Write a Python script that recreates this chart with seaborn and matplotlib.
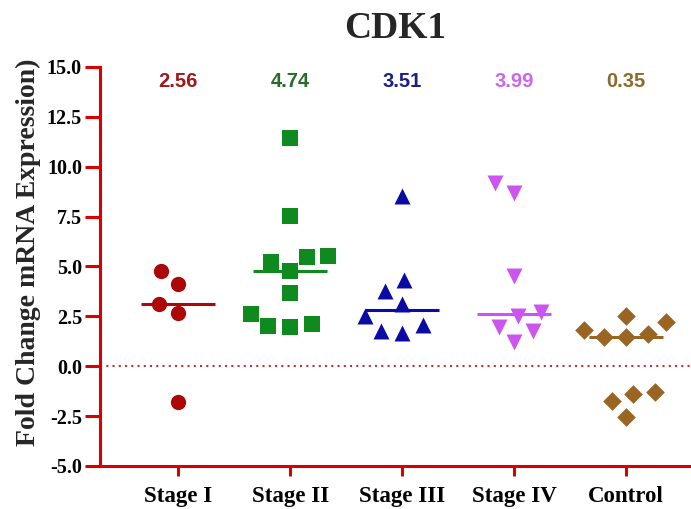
import numpy as np
import pandas as pd
import matplotlib
matplotlib.use("Agg")
import matplotlib.pyplot as plt
import seaborn as sns

# data
stages = ["Stage I", "Stage II", "Stage III", "Stage IV", "Control"]
stage1 = [4.76, 4.11, 3.10, 2.66, -1.80]
stage2 = [11.43, 7.52, 5.46, 5.21, 4.76, 5.51, 3.66, 2.61, 1.95, 2.00, 2.10]
stage3 = [8.52, 3.76, 4.31, 3.10, 2.50, 1.65, 1.75, 2.05]
stage4 = [9.17, 8.67, 4.51, 2.51, 2.71, 1.95, 1.75, 1.20]
control = [2.20, 2.50, 1.80, 1.45, 1.45, 1.60, -1.30, -1.40, -1.75, -2.56]
mean_labels = ["2.56", "4.74", "3.51", "3.99", "0.35"]

marker_colors = ["#ad0808", "#0f8a1e", "#0a0aa5", "#cc55f0", "#9a6522"]
label_colors = ["#a01818", "#2a6a2a", "#1a1f86", "#cc66ee", "#8c6a2a"]
markers = ["o", "s", "^", "v", "D"]
marker_sizes = [11, 11, 11.5, 11.5, 9.5]
yticks = [-5.0, -2.5, 0.0, 2.5, 5.0, 7.5, 10.0, 12.5, 15.0]

groups = [stage1, stage2, stage3, stage4, control]
df = pd.DataFrame({
    "stage": np.repeat(stages, [len(g) for g in groups]),
    "value": np.concatenate(groups),
})

sns.set_style("ticks")
plt.rcParams["font.family"] = ["Liberation Serif", "DejaVu Serif"]
plt.rcParams["font.weight"] = "bold"

axis_red = "#d80000"

fig = plt.figure(figsize=(6.91, 5.09), dpi=100)
ax = fig.add_axes([0.1447, 0.0845, 0.854, 0.784])

swarms = []
for stage, mc, mk in zip(stages, marker_colors, markers):
    sub = df[df["stage"] == stage]
    # median line only
    sns.boxplot(data=sub, x="stage", y="value", order=stages, width=0.66,
                showbox=False, showcaps=False, showfliers=False,
                whiskerprops={"linewidth": 0},
                medianprops={"color": mc, "linewidth": 2.2},
                ax=ax)
    # swarm with a bigger collision size so the points spread out like the original
    n_before = len(ax.collections)
    sns.swarmplot(data=sub, x="stage", y="value", order=stages, color=mc,
                  marker=mk, size=15, linewidth=0, ax=ax, alpha=0)
    new = [c for c in ax.collections[n_before:] if len(c.get_offsets()) > 0]
    swarms.append(new[0])

ax.set_ylim(-5, 15)
ax.set_xlim(-0.7, 4.57)

# let seaborn lay out the swarm, then redraw the points at their real size
fig.canvas.draw()
for coll, mc, mk, ms in zip(swarms, marker_colors, markers, marker_sizes):
    pts = np.asarray(coll.get_offsets()).copy()
    ax.scatter(pts[:, 0], pts[:, 1], marker=mk, s=ms ** 2, color=mc,
               linewidths=0, zorder=3)
for coll in swarms:
    coll.remove()

ax.axhline(0, color="#b03a3a", linewidth=1.5, linestyle=(0, (1, 2)), zorder=1)

for i, (txt, c) in enumerate(zip(mean_labels, label_colors)):
    ax.text(i, 14.25, txt, ha="center", va="center", color=c, fontsize=14.5,
            fontweight="bold", family=["Liberation Sans", "DejaVu Sans"])

ax.set_yticks(yticks)
ax.set_yticklabels([f"{t:.1f}" for t in yticks])

ax.set_xlabel("")
ax.set_ylabel("Fold Change mRNA Expression)", fontsize=20, fontweight="bold")
ax.yaxis.set_label_coords(-0.1, 0.535)
ax.set_title("CDK1", fontsize=27, fontweight="bold", pad=21)

sns.despine(ax=ax)
for side in ["left", "bottom"]:
    ax.spines[side].set_color(axis_red)
    ax.spines[side].set_linewidth(2.2)
ax.tick_params(axis="y", colors=axis_red, labelcolor="black", length=11, width=2.2,
               labelsize=14.5, pad=2)
ax.tick_params(axis="x", colors=axis_red, labelcolor="black", length=7, width=2.2,
               labelsize=16.5, pad=7.5)
for lab in ax.get_xticklabels() + ax.get_yticklabels():
    lab.set_fontweight("bold")

fig.savefig("out.png", dpi=100)
